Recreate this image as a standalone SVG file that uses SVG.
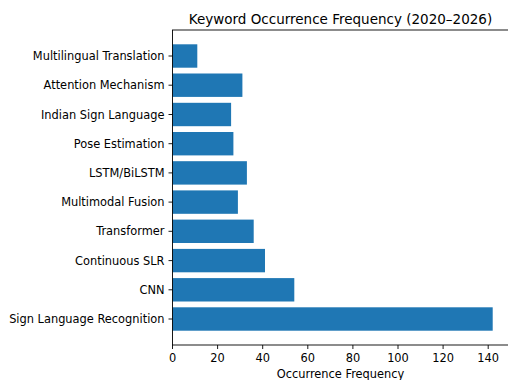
<svg xmlns="http://www.w3.org/2000/svg" width="508" height="380" viewBox="0 0 508 380">
<style>
text{font-family:"DejaVu Sans","Liberation Sans",sans-serif;fill:#000}
.yl{font-size:11.4px;text-anchor:end}
.xl{font-size:11.4px;text-anchor:middle}
.title{font-size:13.5px;text-anchor:middle}
.bar{fill:#1f77b4}
.tick{stroke:#000;stroke-width:0.9}
.spine{fill:none;stroke:#000;stroke-width:0.9}
</style>
<rect width="508" height="380" fill="#fff"/>
<g id="bars">
<rect class="bar" x="172.5" y="307.3" width="320.2" height="23.4"/>
<rect class="bar" x="172.5" y="278.1" width="121.8" height="23.4"/>
<rect class="bar" x="172.5" y="248.9" width="92.5" height="23.4"/>
<rect class="bar" x="172.5" y="219.6" width="81.2" height="23.4"/>
<rect class="bar" x="172.5" y="190.4" width="65.4" height="23.4"/>
<rect class="bar" x="172.5" y="161.2" width="74.4" height="23.4"/>
<rect class="bar" x="172.5" y="132.0" width="60.9" height="23.4"/>
<rect class="bar" x="172.5" y="102.8" width="58.6" height="23.4"/>
<rect class="bar" x="172.5" y="73.5" width="69.9" height="23.4"/>
<rect class="bar" x="172.5" y="44.3" width="24.8" height="23.4"/>
</g>
<rect class="spine" x="172.5" y="30" width="336" height="315"/>
<g id="yticks">
<line class="tick" x1="168.5" y1="319.0" x2="172.5" y2="319.0"/>
<line class="tick" x1="168.5" y1="289.8" x2="172.5" y2="289.8"/>
<line class="tick" x1="168.5" y1="260.6" x2="172.5" y2="260.6"/>
<line class="tick" x1="168.5" y1="231.3" x2="172.5" y2="231.3"/>
<line class="tick" x1="168.5" y1="202.1" x2="172.5" y2="202.1"/>
<line class="tick" x1="168.5" y1="172.9" x2="172.5" y2="172.9"/>
<line class="tick" x1="168.5" y1="143.7" x2="172.5" y2="143.7"/>
<line class="tick" x1="168.5" y1="114.5" x2="172.5" y2="114.5"/>
<line class="tick" x1="168.5" y1="85.2" x2="172.5" y2="85.2"/>
<line class="tick" x1="168.5" y1="56.0" x2="172.5" y2="56.0"/>
<text class="yl" x="164.5" y="323.1">Sign Language Recognition</text>
<text class="yl" x="164.5" y="293.9">CNN</text>
<text class="yl" x="164.5" y="264.7">Continuous SLR</text>
<text class="yl" x="164.5" y="235.4">Transformer</text>
<text class="yl" x="164.5" y="206.2">Multimodal Fusion</text>
<text class="yl" x="164.5" y="177.0">LSTM/BiLSTM</text>
<text class="yl" x="164.5" y="147.8">Pose Estimation</text>
<text class="yl" x="164.5" y="118.6">Indian Sign Language</text>
<text class="yl" x="164.5" y="89.3">Attention Mechanism</text>
<text class="yl" x="164.5" y="60.1">Multilingual Translation</text>
</g>
<g id="xticks">
<line class="tick" x1="172.5" y1="345" x2="172.5" y2="349"/>
<line class="tick" x1="217.6" y1="345" x2="217.6" y2="349"/>
<line class="tick" x1="262.7" y1="345" x2="262.7" y2="349"/>
<line class="tick" x1="307.8" y1="345" x2="307.8" y2="349"/>
<line class="tick" x1="352.9" y1="345" x2="352.9" y2="349"/>
<line class="tick" x1="398.0" y1="345" x2="398.0" y2="349"/>
<line class="tick" x1="443.1" y1="345" x2="443.1" y2="349"/>
<line class="tick" x1="488.2" y1="345" x2="488.2" y2="349"/>
<text class="xl" x="172.5" y="362">0</text>
<text class="xl" x="217.6" y="362">20</text>
<text class="xl" x="262.7" y="362">40</text>
<text class="xl" x="307.8" y="362">60</text>
<text class="xl" x="352.9" y="362">80</text>
<text class="xl" x="398.0" y="362">100</text>
<text class="xl" x="443.1" y="362">120</text>
<text class="xl" x="488.2" y="362">140</text>
</g>
<text class="xl" x="340.5" y="377.5">Occurrence Frequency</text>
<text class="title" x="340.5" y="24">Keyword Occurrence Frequency (2020–2026)</text>
</svg>
